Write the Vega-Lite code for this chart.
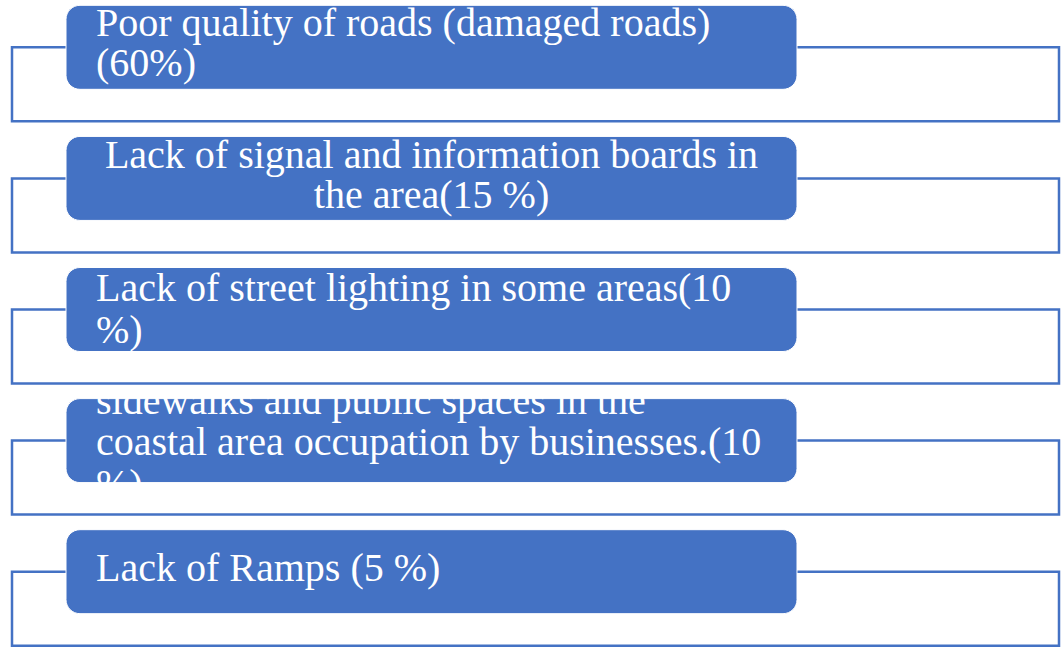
{
  "$schema": "https://vega.github.io/schema/vega-lite/v6.json",
  "width": 1061,
  "height": 647,
  "autosize": {"type": "fit", "contains": "padding"},
  "padding": 0,
  "background": "white",
  "config": {"view": {"stroke": null}},
  "data": {
    "values": [
      {"row": 1, "label": "Poor quality of roads (damaged roads)\n(60%)", "share": 60},
      {"row": 2, "label": "Lack of signal and information boards in\nthe area(15 %)", "share": 15},
      {"row": 3, "label": "Lack of street lighting in some areas(10\n%)", "share": 10},
      {"row": 4, "label": "sidewalks and public spaces in the\ncoastal area occupation by businesses.(10\n%)", "share": 10},
      {"row": 5, "label": "Lack of Ramps (5 %)", "share": 5}
    ]
  },
  "encoding": {
    "y": {"field": "row", "type": "quantitative", "scale": {"domain": [0.639, 5.544], "reverse": true, "nice": false, "zero": false}, "axis": null}
  },
  "layer": [
    {
      "mark": {"type": "rect", "fill": "white", "stroke": "#4472C4", "strokeWidth": 2.5, "y2Offset": 74},
      "encoding": {
        "x": {"datum": 12, "type": "quantitative", "scale": {"domain": [0, 1061], "nice": false, "zero": false}, "axis": null},
        "x2": {"datum": 1059},
        "y2": {"field": "row"}
      }
    },
    {
      "mark": {"type": "rect", "fill": "#4472C4", "stroke": "white", "strokeWidth": 1, "cornerRadius": 14, "yOffset": -42, "y2Offset": 42},
      "encoding": {
        "x": {"datum": 66, "type": "quantitative", "scale": {"domain": [0, 1061], "nice": false, "zero": false}, "axis": null},
        "x2": {"datum": 797},
        "y2": {"field": "row"}
      }
    },
    {
      "transform": [{"filter": "datum.row == 1"}],
      "mark": {"type": "text", "align": "left", "baseline": "middle", "font": "Liberation Serif", "fontSize": 40, "lineHeight": 40, "lineBreak": "\n", "color": "white", "yOffset": -23},
      "encoding": {
        "x": {"datum": 96, "type": "quantitative", "scale": {"domain": [0, 1061], "nice": false, "zero": false}, "axis": null},
        "text": {"field": "label", "type": "nominal"}
      }
    },
    {
      "transform": [{"filter": "datum.row == 3"}],
      "mark": {"type": "text", "align": "left", "baseline": "middle", "font": "Liberation Serif", "fontSize": 40, "lineHeight": 42, "lineBreak": "\n", "color": "white", "yOffset": -20.5},
      "encoding": {
        "x": {"datum": 96, "type": "quantitative", "scale": {"domain": [0, 1061], "nice": false, "zero": false}, "axis": null},
        "text": {"field": "label", "type": "nominal"}
      }
    },
    {
      "transform": [{"filter": "datum.row == 4"}],
      "mark": {"type": "text", "align": "left", "baseline": "middle", "font": "Liberation Serif", "fontSize": 40, "lineHeight": 41.5, "lineBreak": "\n", "color": "white", "yOffset": -39},
      "encoding": {
        "x": {"datum": 96, "type": "quantitative", "scale": {"domain": [0, 1061], "nice": false, "zero": false}, "axis": null},
        "text": {"field": "label", "type": "nominal"}
      }
    },
    {
      "transform": [{"filter": "datum.row == 5"}],
      "mark": {"type": "text", "align": "left", "baseline": "middle", "font": "Liberation Serif", "fontSize": 40, "lineHeight": 41, "lineBreak": "\n", "color": "white", "yOffset": -3},
      "encoding": {
        "x": {"datum": 96, "type": "quantitative", "scale": {"domain": [0, 1061], "nice": false, "zero": false}, "axis": null},
        "text": {"field": "label", "type": "nominal"}
      }
    },
    {
      "transform": [{"filter": "datum.row == 2"}],
      "mark": {"type": "text", "align": "center", "baseline": "middle", "font": "Liberation Serif", "fontSize": 40, "lineHeight": 40, "lineBreak": "\n", "color": "white", "yOffset": -22},
      "encoding": {
        "x": {"datum": 431.5, "type": "quantitative", "scale": {"domain": [0, 1061], "nice": false, "zero": false}, "axis": null},
        "text": {"field": "label", "type": "nominal"}
      }
    }
  ]
}
